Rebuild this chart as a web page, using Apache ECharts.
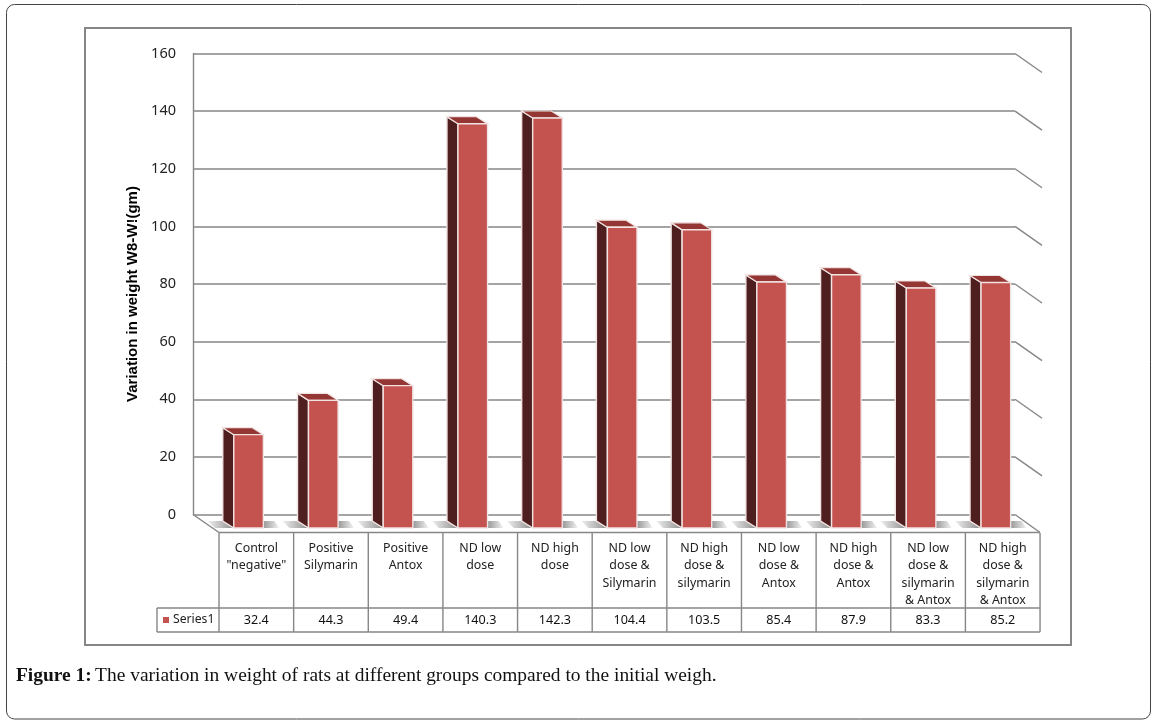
<!DOCTYPE html>
<html>
<head>
<meta charset="utf-8">
<style>html,body{margin:0;padding:0;background:#fff}#c{width:1160px;height:727px}</style>
<script src="https://cdn.jsdelivr.net/npm/echarts@6/dist/echarts.min.js"></script>
</head>
<body>
<div id="c"></div>
<script>
const categories = ['Control\n"negative"','Positive\nSilymarin','Positive\nAntox','ND low\ndose','ND high\ndose','ND low\ndose &\nSilymarin','ND high\ndose &\nsilymarin','ND low\ndose &\nAntox','ND high\ndose &\nAntox','ND low\ndose &\nsilymarin\n& Antox','ND high\ndose &\nsilymarin\n& Antox'];
const series1 = [32.4,44.3,49.4,140.3,142.3,104.4,103.5,85.4,87.9,83.3,85.2];
const ticks = [0,20,40,60,80,100,120,140,160];
const seriesName = 'Series1';
const yTitle = 'Variation in weight W8-W!(gm)';
const captionBold = 'Figure 1:';
const captionText = 'The variation in weight of rats at different groups compared to the initial weigh.';

const GRID = '#868686', FONT = '"Noto Sans"';
const FRONT = '#C4524F', SIDE = '#4F1F1F', TOP = '#943634', EDGE = '#F1E3E2';

function poly(pts, fill, stroke, lw) {
  return {type:'polygon', shape:{points:pts}, style:{fill:fill, stroke:stroke||null, lineWidth:lw||0}};
}
function grad(a, b) {
  return {type:'linear', x:0, y:0, x2:1, y2:0, colorStops:[{offset:0,color:a},{offset:1,color:b}]};
}
function renderBar(params, api) {
  const idx = api.value(0), val = api.value(1);
  const top = api.coord([idx, val]), base = api.coord([idx, 0]);
  const cx = base[0] + 18.2, hw = 14.8;
  const l = cx - hw, r = cx + hw;
  const by = base[1] + 13.5, ty = top[1] + 13.5;
  const dx = 11, dy = 7;
  return {type:'group', children:[
    poly([[l-dx-15,by-dy],[l-dx,by-dy],[l,by],[l-dx-8,by]], grad('#f0f0f0','#8c8c8c')),
    poly([[r-2,by-dy],[r+11,by-dy],[r+16,by],[r,by]], grad('#8c8c8c','#f4f4f4')),
    poly([[l-dx,ty-dy],[l,ty],[l,by],[l-dx,by-dy]], SIDE, EDGE, 1.4),
    poly([[l-dx,ty-dy],[r-dx,ty-dy],[r,ty],[l,ty]], TOP, EDGE, 1.2),
    {type:'rect', shape:{x:l,y:ty,width:r-l,height:by-ty}, style:{fill:FRONT, stroke:EDGE, lineWidth:1.4}}
  ]};
}
function renderWall(params, api) {
  const p = api.coord([0, api.value(0)]);
  const x0 = 193, xr = 1015, zero = api.value(0) === 0;
  const line = (x1,y1,x2,y2) => ({type:'line', shape:{x1,y1,x2,y2}, style:{stroke:GRID, lineWidth:1.4}});
  const ch = [line(xr, p[1], xr + (zero ? 25 : 27), p[1] + (zero ? 18 : 19))];
  if (zero) ch.push(line(x0, p[1], x0 + 26, p[1] + 18), line(x0 + 26, p[1] + 18, xr + 25, p[1] + 18));
  return {type:'group', children:ch};
}
function renderTable(params, api) {
  const idx = api.value(0), val = api.value(1);
  const w = 74.64, x = 219 + idx * w;
  const yTop = 533, yMid = 608, yBot = 632;
  const stroke = {stroke:GRID, lineWidth:1.4};
  const line = (x1,y1,x2,y2) => ({type:'line', shape:{x1,y1,x2,y2}, style:stroke});
  const ch = [
    line(x+w, yTop, x+w, yBot),
    line(x, yMid, x+w, yMid),
    line(x, yBot, x+w, yBot),
    {type:'text', style:{text:categories[idx], x:x+w/2, y:540, align:'center', verticalAlign:'top', font:'12.4px '+FONT, lineHeight:17.3, fill:'#222'}},
    {type:'text', style:{text:String(val), x:x+w/2, y:620, align:'center', verticalAlign:'middle', font:'12.6px '+FONT, fill:'#111'}}
  ];
  if (idx === 0) {
    ch.push(line(x, yTop, x, yBot), line(157, yMid, x, yMid), line(157, yBot, x, yBot), line(157, yMid, 157, yBot),
      {type:'rect', shape:{x:163,y:617,width:6,height:6}, style:{fill:FRONT}},
      {type:'text', style:{text:seriesName, x:173, y:620, align:'left', verticalAlign:'middle', font:'12.2px '+FONT, fill:'#222'}});
  }
  return {type:'group', children:ch};
}

const chart = echarts.init(document.getElementById('c'), null, {renderer:'canvas', width:1160, height:727});
chart.setOption({
  animation:false,
  backgroundColor:'#fff',
  grid:{left:193, right:145, top:53.5, bottom:212.5, containLabel:false},
  xAxis:{type:'category', data:categories, show:false, boundaryGap:true},
  yAxis:{type:'value', min:0, max:160, interval:20,
    name:yTitle, nameLocation:'middle', nameGap:52, nameRotate:90,
    nameTextStyle:{fontFamily:'"Liberation Sans"', fontWeight:'bold', fontSize:15, color:'#000', padding:[0,20,0,0]},
    axisLine:{show:true, lineStyle:{color:GRID, width:1.4}},
    axisTick:{show:false},
    axisLabel:{margin:17, fontFamily:FONT, fontSize:14.5, color:'#222', padding:[4,0,0,0]},
    splitLine:{show:true, lineStyle:{color:GRID, width:1.5}}
  },
  graphic:[
    {type:'rect', z:-1, shape:{x:6.5,y:4.5,width:1144,height:714.5,r:8}, style:{fill:'#fff', stroke:'#444', lineWidth:1}},
    {type:'rect', z:-1, shape:{x:85,y:28,width:986,height:617}, style:{fill:'#fff', stroke:GRID, lineWidth:2}},
    {type:'text', left:16, top:666, style:{
      text:'{b|'+captionBold+'} {r|'+captionText+'}',
      rich:{b:{font:'bold 19.45px "Liberation Serif"', fill:'#111'}, r:{font:'19.45px "Liberation Serif"', fill:'#111'}}
    }}
  ],
  series:[
    {type:'custom', name:'wall', silent:true, z:2, renderItem:renderWall, data:ticks.map(t=>[t]), encode:{y:0}},
    {type:'custom', name:'table', silent:true, z:3, renderItem:renderTable, data:series1.map((v,i)=>[i,v]), encode:{x:0,y:1}},
    {type:'custom', name:seriesName, silent:true, z:4, renderItem:renderBar, data:series1.map((v,i)=>[i,v]), encode:{x:0,y:1}}
  ]
});
</script>
</body>
</html>
